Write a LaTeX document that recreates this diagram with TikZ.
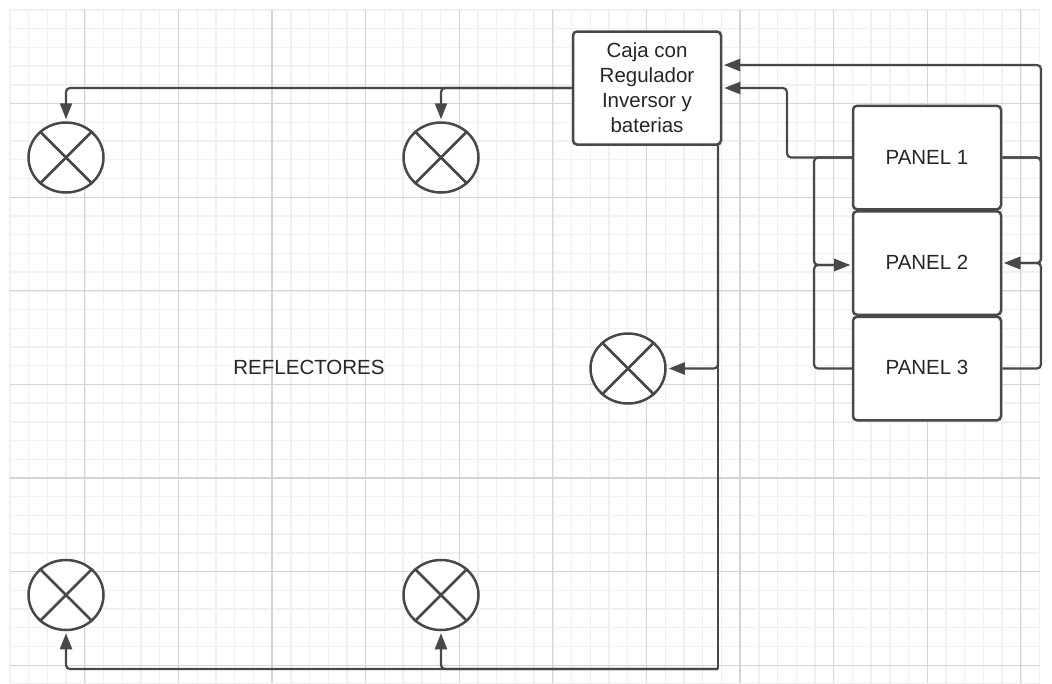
\documentclass[tikz,border=0pt]{standalone}
\usepackage{fontspec}
\setmainfont{Liberation Sans}
\usetikzlibrary{arrows.meta,shapes.geometric}
\definecolor{linecol}{HTML}{484848}
\definecolor{gridminor}{HTML}{F0F0F0}
\definecolor{gridmajor}{HTML}{D4D4D4}
\tikzset{
  box/.style={draw=linecol,fill=white,line width=2.5pt,rounded corners=4pt,minimum width=148pt,align=center,inner sep=0pt,font=\fontsize{20.5}{25}\selectfont,text=black!85},
  lamp/.style={draw=linecol,fill=white,ellipse,line width=2.5pt,minimum width=75pt,minimum height=70pt,inner sep=0pt},
  xline/.style={draw=linecol,line width=2.5pt},
  conn/.style={draw=linecol,line width=2.2pt,rounded corners=4pt},
  arrowed/.style={conn,-{Triangle[length=16pt,width=12pt]},shorten >=2pt},
  label/.style={font=\fontsize{20.5}{25}\selectfont,text=black!85,inner sep=0pt}
}
\begin{document}
\begin{tikzpicture}[x=1pt,y=-1pt]
\useasboundingbox (0,0) rectangle (1052,683);
\fill[white] (0,0) rectangle (1052,683);
% grid
\foreach \i in {0,...,55}{
  \pgfmathsetmacro{\gx}{10+18.72*\i}
  \draw[gridminor,line width=1.4pt] (\gx,10) -- (\gx,683);
}
\foreach \j in {0,...,36}{
  \pgfmathsetmacro{\gy}{10+18.72*\j}
  \draw[gridminor,line width=1.4pt] (10,\gy) -- (1040,\gy);
}
\foreach \i in {4,9,...,54}{
  \pgfmathsetmacro{\gx}{10+18.72*\i}
  \draw[gridmajor,line width=1.2pt] (\gx,10) -- (\gx,683);
}
\foreach \j in {5,10,...,35}{
  \pgfmathsetmacro{\gy}{10+18.72*\j}
  \draw[gridmajor,line width=1.2pt] (10,\gy) -- (1040,\gy);
}
% free ends and junctions
\coordinate (cajaTop) at (722,65);
\coordinate (cajaLow) at (718,145);
\coordinate (rightbus) at (1041,263);
\coordinate (leftbus) at (814,265);
\coordinate (elbow) at (787,120);
\coordinate (bottombus) at (718,669);
\coordinate (p2left) at (852,265);
% nodes
\node[box,minimum height=113pt] (caja) at (647,88) {Caja con\\Regulador\\Inversor y\\baterias};
\node[box,minimum height=103.5pt] (p1) at (927,157.5) {};
\node[box,minimum height=103.5pt] (p2) at (927,263) {};
\node[box,minimum height=103.5pt] (p3) at (927,368.5) {};
\node[label] (p1t) at (927,157) {PANEL 1};
\node[label] (p2t) at (927,262) {PANEL 2};
\node[label] (p3t) at (927,367) {PANEL 3};
\node[label] (refl) at (309,367) {REFLECTORES};
\node[lamp] (l1) at (66,157.5) {};
\node[lamp] (l2) at (441,157.5) {};
\node[lamp] (l3) at (628,368.5) {};
\node[lamp] (l4) at (66,595) {};
\node[lamp] (l5) at (441,595) {};
\foreach \n in {l1,l2,l3,l4,l5}{
  \draw[xline] (\n.45) -- (\n.225);
  \draw[xline] (\n.135) -- (\n.315);
}
% connectors
\draw[arrowed] (caja.west) -| (l1.north);
\draw[arrowed] (caja.west) -| (l2.north);
\draw[conn] (cajaLow) -- (bottombus);
\draw[arrowed] (cajaLow) |- (l3.east);
\draw[arrowed] (bottombus) -| (l4.south);
\draw[arrowed] (bottombus) -| (l5.south);
\draw[arrowed] (p1.west) -| (elbow) |- (caja.east);
\draw[arrowed] (p1.east) -| (rightbus) |- (cajaTop);
\draw[arrowed] (p1.east) -| (rightbus) -- (p2.east);
\draw[arrowed] (p3.east) -| (rightbus) -- (p2.east);
\draw[arrowed] (p1.west) -| (leftbus) -- (p2left);
\draw[arrowed] (p3.west) -| (leftbus) -- (p2left);
\end{tikzpicture}
\end{document}
